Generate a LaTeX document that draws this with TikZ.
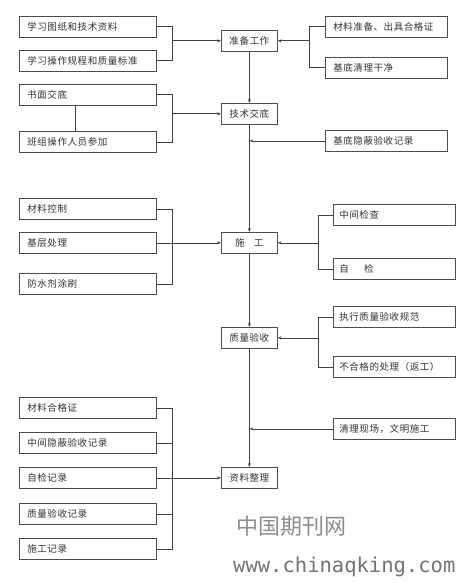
\documentclass[tikz,border=0pt]{standalone}
\usepackage{fontspec}
\newfontfamily\cjk[LetterSpace=6]{Noto Sans CJK SC}
\newfontfamily\cjkmark{Noto Sans CJK SC}
\newfontfamily\markmono{DejaVu Sans Mono}
\usetikzlibrary{positioning, arrows.meta, calc}

\begin{document}
\begin{tikzpicture}[
  x=1pt, y=-1pt,
  box/.style={draw=black!70, line width=0.7pt, fill=white, minimum height=21pt,
              inner ysep=0pt, anchor=north west,
              font=\cjk\fontsize{9.5}{11}\selectfont, text=black!80},
  leftbox/.style={box, text width=121pt, inner xsep=8pt, align=left},
  rightbox/.style={box, text width=110pt, inner xsep=6pt, align=left},
  mainbox/.style={box, minimum width=56pt, inner xsep=2pt, align=center},
  link/.style={draw=black!75, line width=0.7pt},
  flow/.style={link, -{Stealth[length=4pt, width=3pt]}}
]
  \useasboundingbox (0,0) rectangle (463,583);

  % bracket columns
  \coordinate (lbar) at (172,0);
  \coordinate (rbarA) at (309,0);
  \coordinate (rbarB) at (318,0);

  % main column
  \node[mainbox] (prep)  at (221,30)  {准备工作};
  \node[mainbox] (brief) at (221,103) {技术交底};
  \node[mainbox] (build) at (221,232) {施\hspace{1em}工};
  \node[mainbox] (check) at (221,327) {质量验收};
  \node[mainbox] (arch)  at (221,467) {资料整理};

  % left column
  \node[leftbox] (l1)  at (19,16)  {学习图纸和技术资料};
  \node[leftbox] (l2)  at (19,50)  {学习操作规程和质量标准};
  \node[leftbox] (l3)  at (19,84)  {书面交底};
  \node[leftbox] (l4)  at (19,131) {班组操作人员参加};
  \node[leftbox] (l5)  at (19,198) {材料控制};
  \node[leftbox] (l6)  at (19,232) {基层处理};
  \node[leftbox] (l7)  at (19,273) {防水剂涂刷};
  \node[leftbox] (l8)  at (19,397) {材料合格证};
  \node[leftbox] (l9)  at (19,432) {中间隐蔽验收记录};
  \node[leftbox] (l10) at (19,467) {自检记录};
  \node[leftbox] (l11) at (19,503) {质量验收记录};
  \node[leftbox] (l12) at (19,538) {施工记录};

  % right column
  \node[rightbox, inner xsep=8pt, text width=106pt] (r1) at (325,16)  {材料准备、出具合格证};
  \node[rightbox, inner xsep=8pt, text width=106pt] (r2) at (325,57)  {基底清理干净};
  \node[rightbox, inner xsep=8pt, text width=106pt] (r3) at (325,130) {基底隐蔽验收记录};
  \node[rightbox] (r4) at (333,204) {中间检查};
  \node[rightbox] (r5) at (333,258) {自\hspace{1.6em}检};
  \node[rightbox] (r6) at (333,306) {执行质量验收规范};
  \node[rightbox] (r7) at (333,356) {不合格的处理（返工）};
  \node[rightbox] (r8) at (333,418) {清理现场，文明施工};

  % main flow
  \draw[flow] (prep.south)  -- (brief.north);
  \draw[flow] (brief.south) -- (build.north);
  \draw[flow] (build.south) -- (check.north);
  \draw[flow] (check.south) -- (arch.north);

  % left brackets
  \draw[link] (l1.east) -| (prep.west -| lbar);
  \draw[link] (l2.east) -| (prep.west -| lbar);
  \draw[flow] (prep.west -| lbar) -- (prep.west);

  \draw[link] ([xshift=56pt]l3.south west) -- ([xshift=56pt]l4.north west);
  \draw[link] (l3.east) -| (brief.west -| lbar);
  \draw[link] (l4.east) -| (brief.west -| lbar);
  \draw[flow] (brief.west -| lbar) -- (brief.west);

  \draw[link] (l5.east) -| (build.west -| lbar);
  \draw[link] (l7.east) -| (build.west -| lbar);
  \draw[flow] (l6.east) -- (build.west);

  \foreach \n in {l8, l9, l11, l12}{
    \draw[link] (\n.east) -| (arch.west -| lbar);
  }
  \draw[flow] (l10.east) -- (arch.west);

  % right brackets
  \draw[link] (r1.west) -| (prep.east -| rbarA);
  \draw[link] (r2.west) -| (prep.east -| rbarA);
  \draw[flow] (prep.east -| rbarA) -- (prep.east);

  \draw[flow] (r3.west) -- (r3.west -| brief.south);

  \draw[link] (r4.west) -| (build.east -| rbarB);
  \draw[link] (r5.west) -| (build.east -| rbarB);
  \draw[flow] (build.east -| rbarB) -- (build.east);

  \draw[link] (r6.west) -| (check.east -| rbarB);
  \draw[link] (r7.west) -| (check.east -| rbarB);
  \draw[flow] (check.east -| rbarB) -- (check.east);

  \draw[flow] (r8.west) -- (r8.west -| check.south);

  % watermark
  \node[anchor=west, text=black!45, font=\cjkmark\fontsize{22}{24}\selectfont]
    (wm1) at (233,526) {中国期刊网};
  \node[anchor=west, text=black!55, font=\markmono\fontsize{20.5}{22}\selectfont, inner xsep=0pt]
    (wm2) at (233,567) {www.chinaqking.com};
\end{tikzpicture}
\end{document}
